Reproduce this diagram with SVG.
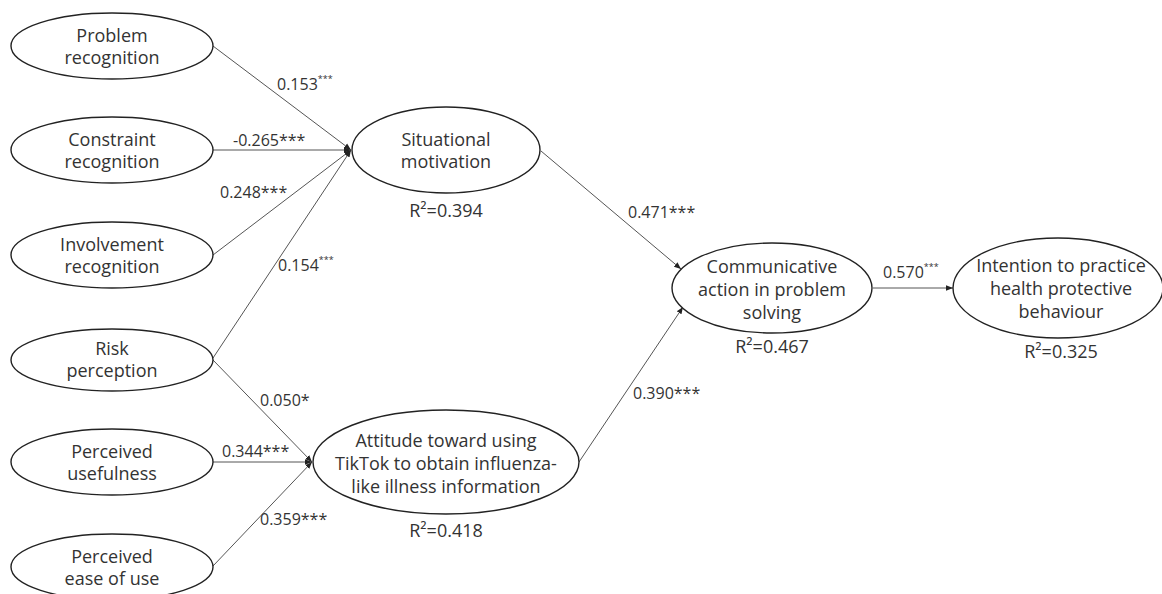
<svg xmlns="http://www.w3.org/2000/svg" width="1162" height="594" viewBox="0 0 1162 594">
<style>
.node ellipse{fill:#fff;stroke:#222;stroke-width:1.4}
text{font-family:"Open Sans","Noto Sans","Liberation Sans",sans-serif;font-size:18px;fill:#333}
.t{text-anchor:middle}
.lbl{font-size:16px}
.sup{font-size:9px}
.edges line{stroke:#555;stroke-width:1}
</style>
<defs>
<marker id="ah" markerWidth="8" markerHeight="8" refX="7" refY="4" orient="auto" markerUnits="userSpaceOnUse">
<path d="M0,1.2 L7,4 L0,6.8 Z" fill="#222"/>
</marker>
</defs>
<rect width="1162" height="594" fill="#fff"/>
<g class="edges">
<line x1="213" y1="46" x2="351" y2="150" marker-end="url(#ah)"/>
<line x1="213" y1="150" x2="351" y2="150" marker-end="url(#ah)"/>
<line x1="213" y1="255" x2="351" y2="150" marker-end="url(#ah)"/>
<line x1="213" y1="358" x2="351" y2="150" marker-end="url(#ah)"/>
<line x1="213" y1="360" x2="312" y2="462" marker-end="url(#ah)"/>
<line x1="213" y1="462" x2="312" y2="462" marker-end="url(#ah)"/>
<line x1="213" y1="566" x2="312" y2="462" marker-end="url(#ah)"/>
<line x1="541" y1="151" x2="681" y2="269" marker-end="url(#ah)"/>
<line x1="579" y1="462" x2="683" y2="307" marker-end="url(#ah)"/>
<line x1="873" y1="288" x2="953" y2="288" marker-end="url(#ah)"/>
</g>
<g id="n-problem" class="node"><ellipse cx="112" cy="46" rx="101" ry="33"/><text class="t" x="112" y="42">Problem</text><text class="t" x="112" y="64">recognition</text></g>
<g id="n-constraint" class="node"><ellipse cx="112" cy="150" rx="101" ry="33"/><text class="t" x="112" y="146">Constraint</text><text class="t" x="112" y="168">recognition</text></g>
<g id="n-involvement" class="node"><ellipse cx="112" cy="255" rx="101" ry="33"/><text class="t" x="112" y="251">Involvement</text><text class="t" x="112" y="273">recognition</text></g>
<g id="n-risk" class="node"><ellipse cx="112" cy="360" rx="101" ry="31"/><text class="t" x="112" y="355">Risk</text><text class="t" x="112" y="377">perception</text></g>
<g id="n-useful" class="node"><ellipse cx="112" cy="462" rx="101" ry="33"/><text class="t" x="112" y="458">Perceived</text><text class="t" x="112" y="480">usefulness</text></g>
<g id="n-ease" class="node"><ellipse cx="112" cy="567" rx="101" ry="33"/><text class="t" x="112" y="563">Perceived</text><text class="t" x="112" y="585">ease of use</text></g>
<g id="n-situational" class="node"><ellipse cx="446" cy="150" rx="94" ry="43"/><text class="t" x="446" y="146">Situational</text><text class="t" x="446" y="168">motivation</text><text class="t" x="446" y="217">R²=0.394</text></g>
<g id="n-attitude" class="node"><ellipse cx="446" cy="462" rx="133" ry="52"/><text class="t" x="446" y="447">Attitude toward using</text><text class="t" x="446" y="470">TikTok to obtain influenza-</text><text class="t" x="446" y="493">like illness information</text><text class="t" x="446" y="537">R²=0.418</text></g>
<g id="n-communicative" class="node"><ellipse cx="772" cy="288" rx="100" ry="45"/><text class="t" x="772" y="273">Communicative</text><text class="t" x="772" y="296">action in problem</text><text class="t" x="772" y="319">solving</text><text class="t" x="772" y="353">R²=0.467</text></g>
<g id="n-intention" class="node"><ellipse cx="1058" cy="288" rx="105" ry="50"/><text class="t" x="1061" y="272">Intention to practice</text><text class="t" x="1061" y="295">health protective</text><text class="t" x="1061" y="318">behaviour</text><text class="t" x="1061" y="358">R²=0.325</text></g>
<g id="labels">
<text class="lbl" x="277" y="90">0.153<tspan class="sup" dy="-8">***</tspan></text>
<text class="lbl" x="233" y="146">-0.265***</text>
<text class="lbl" x="220" y="198">0.248***</text>
<text class="lbl" x="278" y="271">0.154<tspan class="sup" dy="-8">***</tspan></text>
<text class="lbl" x="260" y="406">0.050*</text>
<text class="lbl" x="222" y="457">0.344***</text>
<text class="lbl" x="260" y="525">0.359***</text>
<text class="lbl" x="628" y="218">0.471***</text>
<text class="lbl" x="633" y="399">0.390***</text>
<text class="lbl" x="883" y="278">0.570<tspan class="sup" dy="-8">***</tspan></text>
</g>
</svg>
